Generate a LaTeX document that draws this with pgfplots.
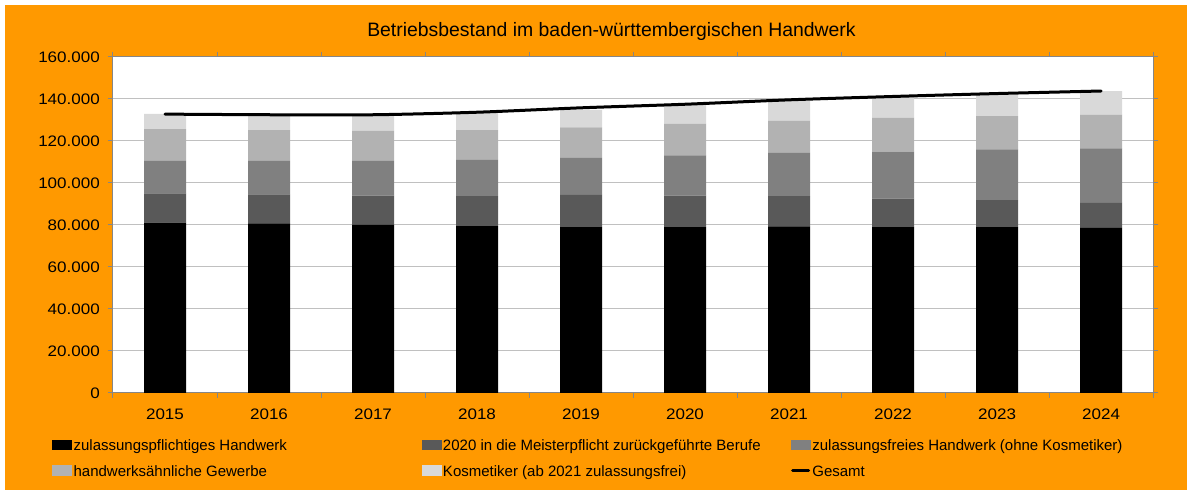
\documentclass[border=0pt]{standalone}
\usepackage{fontspec}
\setmainfont{Liberation Sans}
\newfontfamily\tickfont{Liberation Sans}[FakeStretch=1.12]
\usepackage{pgfplots}
\pgfplotsset{compat=1.18}
\definecolor{bgorange}{RGB}{255,153,0}
\definecolor{c1}{RGB}{0,0,0}
\definecolor{c2}{RGB}{89,89,89}
\definecolor{c3}{RGB}{128,128,128}
\definecolor{c4}{RGB}{178,178,178}
\definecolor{c5}{RGB}{217,217,217}
\definecolor{gridc}{RGB}{192,192,192}
\definecolor{axc}{RGB}{134,134,134}
\begin{document}
\begin{tikzpicture}[x=1pt,y=1pt]
\fill[white] (0,0) rectangle (1187,490);
\fill[bgorange] (5,0) rectangle (1187,485);
\node[anchor=base, inner sep=0pt, font=\fontsize{19.4}{22}\selectfont] at (611.5,453.3) {Betriebsbestand im baden-württembergischen Handwerk};
\begin{axis}[
  at={(113pt,97pt)}, anchor=south west, scale only axis,
  width=1040pt, height=336pt,
  axis background/.style={fill=white},
  ybar stacked, bar width=42pt,
  xmin=-0.5, xmax=9.5, ymin=0, ymax=160000,
  xtick={0,1,2,3,4,5,6,7,8,9},
  xticklabels={2015,2016,2017,2018,2019,2020,2021,2022,2023,2024},
  minor xtick={-0.5,0.5,1.5,2.5,3.5,4.5,5.5,6.5,7.5,8.5,9.5},
  ytick={0,20000,40000,60000,80000,100000,120000,140000,160000},
  yticklabels={0,20.000,40.000,60.000,80.000,100.000,120.000,140.000,160.000},
  scaled y ticks=false,
  tick align=outside,
  major tick length=5pt, minor tick length=5pt,
  major x tick style={draw=none},
  tick style={axc, line width=1pt},
  minor tick style={axc, line width=1pt},
  axis line style={axc, line width=1pt},
  ymajorgrids, grid style={gridc, line width=1pt},
  ticklabel style={font=\tickfont\fontsize{15.2}{16}\selectfont, text=black},
  xticklabel style={anchor=base, inner sep=0pt, yshift=-22pt},
  yticklabel style={anchor=east, inner sep=0pt, xshift=-8pt},
]
\addplot[fill=c1, draw=none] coordinates {(0,81100) (1,80800) (2,80000) (3,79500) (4,79000) (5,79000) (6,79400) (7,79000) (8,79000) (9,78600)};
\addplot[fill=c2, draw=none] coordinates {(0,14000) (1,13800) (2,14000) (3,14300) (4,15300) (5,15000) (6,14300) (7,13500) (8,12800) (9,11900)};
\addplot[fill=c3, draw=none] coordinates {(0,15400) (1,15900) (2,16500) (3,17200) (4,17700) (5,19200) (6,20600) (7,22400) (8,24200) (9,26000)};
\addplot[fill=c4, draw=none] coordinates {(0,15200) (1,14700) (2,14300) (3,14200) (4,14500) (5,14900) (6,15400) (7,16100) (8,15900) (9,16000)};
\addplot[fill=c5, draw=none] coordinates {(0,7200) (1,7100) (2,7500) (3,8300) (4,8300) (5,9000) (6,9500) (7,10100) (8,10000) (9,11200)};
\end{axis}
\begin{axis}[
  at={(113pt,97pt)}, anchor=south west, scale only axis,
  width=1040pt, height=336pt,
  xmin=-0.5, xmax=9.5, ymin=0, ymax=160000,
  hide axis,
  legend columns=3,
  legend cell align=left,
  legend style={at={(0,0)}, anchor=north west, xshift=-61pt, yshift=-46.5pt,
    draw=none, fill=none, inner sep=0pt, column sep=0pt, row sep=11.5pt,
    font=\fontsize{15}{17}\selectfont,
    nodes={inner sep=0pt, text height=11pt, text depth=3pt, anchor=base west}},
]
\addlegendimage{legend image code/.code={\fill[c1] (0pt,1.2pt) rectangle (19pt,10.5pt);}}
\addlegendentry{\makebox[350pt][l]{\hspace{2pt}zulassungspflichtiges Handwerk}}
\addlegendimage{legend image code/.code={\fill[c2] (0pt,1.2pt) rectangle (19pt,10.5pt);}}
\addlegendentry{\makebox[350pt][l]{\hspace{2pt}2020 in die Meisterpflicht zurückgeführte Berufe}}
\addlegendimage{legend image code/.code={\fill[c3] (0pt,1.2pt) rectangle (19pt,10.5pt);}}
\addlegendentry{\hspace{2pt}zulassungsfreies Handwerk (ohne Kosmetiker)}
\addlegendimage{legend image code/.code={\fill[c4] (0pt,1.2pt) rectangle (19pt,10.5pt);}}
\addlegendentry{\makebox[350pt][l]{\hspace{2pt}handwerksähnliche Gewerbe}}
\addlegendimage{legend image code/.code={\fill[c5] (0pt,1.2pt) rectangle (19pt,10.5pt);}}
\addlegendentry{\makebox[350pt][l]{\hspace{2pt}Kosmetiker (ab 2021 zulassungsfrei)}}
\addplot[black, line width=3pt, line cap=round, smooth, mark=none,
  legend image code/.code={\draw[black, line width=3pt, line cap=round] (1.5pt,5.7pt) -- (17.5pt,5.7pt);}]
  coordinates {(0,132800) (1,132500) (2,132500) (3,133700) (4,135800) (5,137500) (6,139600) (7,141200) (8,142600) (9,143800)};
\addlegendentry{\hspace{2pt}Gesamt}
\end{axis}
\end{tikzpicture}
\end{document}
